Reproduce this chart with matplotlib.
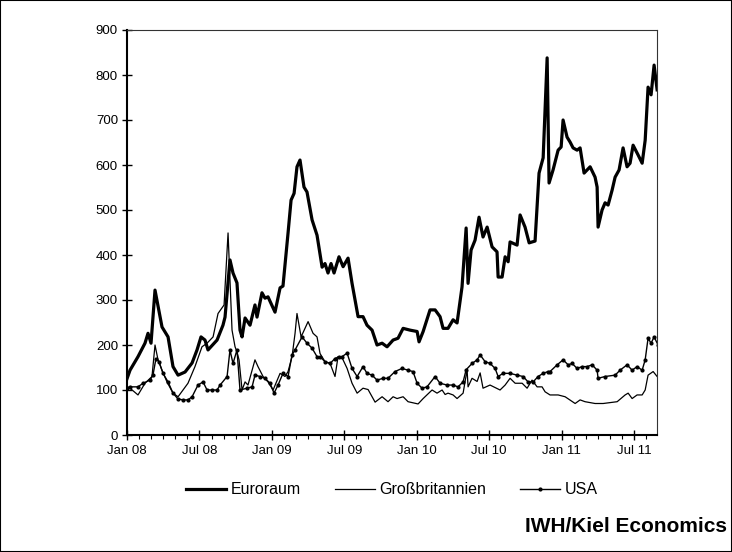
import matplotlib
matplotlib.use("Agg")
import matplotlib.pyplot as plt
from matplotlib.patches import Rectangle
from matplotlib.ticker import MultipleLocator

plt.rcParams["font.family"] = ["Liberation Sans", "DejaVu Sans"]

# x values are months since Jan 2008
euro_m = [0.0, 0.25, 0.91, 1.49, 1.74, 1.99, 2.32, 2.9, 3.4, 3.81, 4.23, 4.81, 5.39, 5.8,
          6.13, 6.46, 6.71, 7.46, 7.95, 8.12, 8.53, 8.78, 9.11, 9.36, 9.53, 9.78, 10.19,
          10.6, 10.77, 11.18, 11.43, 11.68, 12.26, 12.68, 12.92, 13.34, 13.59, 13.84, 14.08,
          14.33, 14.66, 14.91, 15.33, 15.74, 16.16, 16.4, 16.65, 16.9, 17.15, 17.56, 17.9,
          18.31, 18.64, 19.14, 19.55, 19.88, 20.3, 20.71, 21.13, 21.54, 22.04, 22.45, 22.87,
          23.45, 24.03, 24.19, 24.53, 25.1, 25.52, 25.93, 26.18, 26.59, 27.01, 27.34, 27.75,
          28.09, 28.25, 28.5, 28.83, 29.16, 29.49, 29.83, 30.24, 30.65, 30.74, 31.07, 31.32,
          31.57, 31.73, 32.31, 32.56, 32.97, 33.31, 33.8, 34.13, 34.47, 34.8, 34.96, 35.29,
          35.71, 35.96, 36.12, 36.45, 36.7, 36.95, 37.28, 37.53, 37.86, 38.36, 38.77, 38.94,
          39.02, 39.35, 39.6, 39.85, 40.18, 40.43, 40.76, 41.09, 41.42, 41.67, 41.92, 42.34,
          42.67, 42.92, 43.16, 43.41, 43.66, 43.91]
euro_v = [125, 144, 174, 204, 226, 204, 322, 240, 218, 152, 133, 140, 160, 189,
          218, 211, 189, 211, 244, 262, 389, 360, 338, 233, 218, 260, 244,
          289, 262, 316, 304, 307, 273, 327, 331, 449, 522, 537, 596,
          611, 551, 540, 478, 444, 373, 381, 360, 381, 360, 396, 374,
          393, 337, 263, 263, 244, 233, 200, 204, 196, 211, 215, 237,
          233, 230, 207, 230, 278, 278, 263, 237, 237, 256, 249, 329,
          460, 337, 411, 433, 484, 440, 462, 418, 407, 351, 351, 396,
          385, 429, 422, 489, 462, 427, 431, 582, 616, 838, 560, 589,
          633, 640, 700, 662, 651, 638, 633, 638, 582, 596, 573, 551,
          462, 500, 516, 511, 544, 573, 589, 638, 596, 604, 644, 622,
          604, 655, 773, 756, 822, 767]

gb_m = [0.0, 0.25, 0.91, 1.49, 2.07, 2.32, 2.57, 2.9, 3.31, 3.81, 4.23, 5.05, 5.63, 6.21,
        6.63, 7.13, 7.54, 8.04, 8.37, 8.7, 8.95, 9.11, 9.28, 9.53, 9.78, 10.02, 10.6,
        10.85, 11.27, 11.68, 12.1, 12.68, 13.09, 13.34, 13.67, 13.92, 14.08, 14.42, 15.0,
        15.41, 15.74, 15.99, 16.4, 16.82, 17.23, 17.48, 17.81, 18.23, 18.64, 19.06, 19.55,
        19.97, 20.55, 21.13, 21.62, 22.04, 22.37, 22.87, 23.28, 24.11, 24.53, 25.27, 25.68,
        26.1, 26.35, 26.59, 27.01, 27.34, 27.84, 28.17, 28.25, 28.58, 29.0, 29.25, 29.49,
        30.07, 30.9, 31.32, 31.73, 32.15, 32.73, 33.14, 33.55, 33.97, 34.38, 34.63, 35.04,
        35.71, 36.29, 37.12, 37.53, 37.94, 38.77, 39.44, 40.6, 41.26, 41.51, 41.84, 42.25,
        42.67, 42.92, 43.16, 43.58, 43.91]
gb_v = [105, 104, 89, 115, 130, 200, 167, 144, 118, 93, 85, 115, 152, 196,
        204, 218, 270, 289, 449, 233, 196, 185, 167, 100, 118, 111, 167,
        152, 130, 118, 100, 137, 130, 141, 174, 226, 270, 218, 252,
        226, 218, 181, 163, 159, 130, 174, 172, 148, 115, 93, 104,
        101, 73, 85, 74, 85, 81, 85, 74, 69, 81, 100, 93,
        100, 90, 93, 89, 81, 93, 145, 107, 126, 119, 138, 104,
        111, 100, 111, 126, 115, 115, 104, 122, 107, 107, 96, 89,
        89, 85, 70, 78, 74, 70, 70, 74, 89, 93, 81, 89,
        89, 100, 133, 141, 130]

usa_m = [0.0, 0.25, 0.91, 1.33, 1.91, 2.15, 2.4, 2.65, 2.98, 3.4, 3.81, 4.23, 4.64, 5.05,
         5.39, 5.88, 6.3, 6.63, 7.04, 7.46, 7.71, 8.29, 8.53, 8.78, 9.11, 9.36, 9.94,
         10.36, 10.6, 11.02, 11.43, 11.85, 12.18, 12.51, 12.92, 13.34, 13.67, 13.92, 14.5,
         14.91, 15.33, 15.74, 15.99, 16.4, 16.82, 17.23, 17.56, 17.81, 18.23, 18.64, 19.06,
         19.55, 19.88, 20.3, 20.71, 21.21, 21.62, 22.2, 22.78, 23.28, 23.69, 24.03, 24.44,
         24.85, 25.52, 25.93, 26.51, 27.01, 27.42, 27.84, 28.09, 28.58, 29.0, 29.25, 29.66,
         30.07, 30.49, 30.74, 31.15, 31.73, 32.31, 32.81, 33.22, 33.64, 34.05, 34.47, 34.88,
         35.04, 35.63, 36.12, 36.54, 36.87, 37.28, 37.7, 38.11, 38.53, 38.94, 39.02, 39.6,
         40.43, 40.84, 41.42, 41.84, 42.25, 42.67, 42.92, 43.16, 43.41, 43.66, 43.99]
usa_v = [105, 107, 107, 115, 122, 133, 170, 163, 137, 118, 93, 80, 78, 78,
         85, 111, 118, 100, 100, 100, 111, 130, 189, 159, 189, 100, 104,
         107, 133, 130, 126, 115, 93, 111, 137, 130, 178, 189, 218,
         204, 193, 174, 174, 163, 159, 170, 174, 174, 182, 148, 130,
         152, 137, 133, 122, 126, 126, 141, 148, 144, 141, 115, 104,
         107, 130, 115, 111, 111, 107, 118, 145, 159, 167, 178, 163,
         159, 148, 130, 137, 137, 133, 130, 118, 118, 130, 137, 141,
         141, 156, 167, 156, 159, 148, 152, 152, 156, 144, 126, 130,
         133, 144, 156, 144, 152, 144, 167, 215, 204, 218, 200]

tick_pos = [0, 6, 12, 18, 24, 30, 36, 42]
tick_labels = ["Jan 08", "Jul 08", "Jan 09", "Jul 09", "Jan 10", "Jul 10", "Jan 11", "Jul 11"]

fig = plt.figure(figsize=(7.32, 5.52), dpi=100)
ax = fig.add_axes([127 / 732, 1 - 435 / 552, 530 / 732, 405 / 552])

(l_eu,) = ax.plot(euro_m, euro_v, color="black", lw=2.3, label="Euroraum")
(l_gb,) = ax.plot(gb_m, gb_v, color="black", lw=0.9, label="Großbritannien")
(l_us,) = ax.plot(usa_m, usa_v, color="black", lw=1.0, marker="o", ms=2.0, label="USA")

ax.set_xlim(0, 43.9)
ax.set_ylim(0, 900)
ax.yaxis.set_major_locator(MultipleLocator(100))
ax.set_xticks(tick_pos)
ax.set_xticklabels(tick_labels)
ax.xaxis.set_minor_locator(MultipleLocator(1))
ax.tick_params(axis="y", direction="inout", length=7, width=1, labelsize=9.5, pad=3)
ax.tick_params(axis="x", which="major", direction="inout", length=7, width=1, labelsize=9.5, pad=4)
ax.tick_params(axis="x", which="minor", direction="out", length=3, width=0.8)

for side in ["left", "bottom"]:
    ax.spines[side].set_linewidth(1.5)
for side in ["top", "right"]:
    ax.spines[side].set_linewidth(0.8)
    ax.spines[side].set_color("#333333")

fig.legend(handles=[l_eu, l_gb, l_us], loc="center", bbox_to_anchor=(392 / 732, 1 - 490 / 552),
           ncol=3, frameon=False, fontsize=11.5, handlelength=2.5, columnspacing=2.1,
           handletextpad=0.3)

fig.text(727 / 732, 1 - 527 / 552, "IWH/Kiel Economics", fontsize=15, fontweight="bold",
         ha="right", va="center")

fig.patches.append(Rectangle((0, 0), 1, 1, transform=fig.transFigure, fill=False,
                             edgecolor="black", lw=1.5))

fig.savefig("out.png", dpi=100)
